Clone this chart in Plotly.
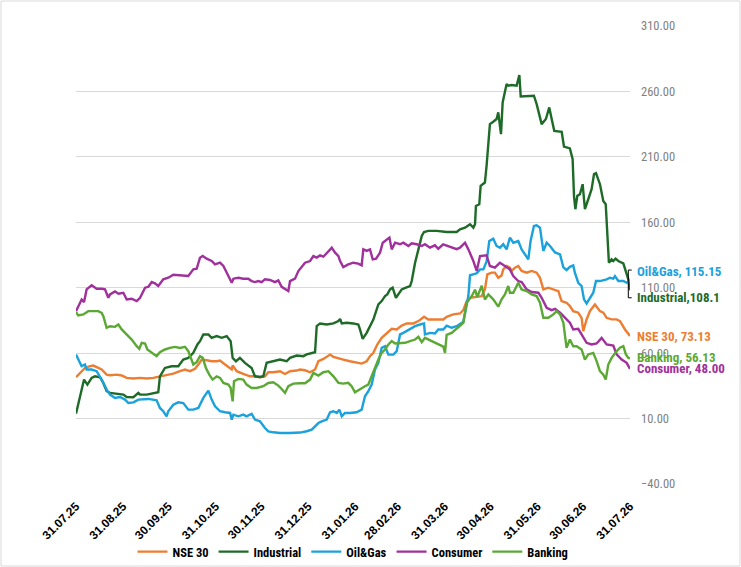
import pandas as pd
import plotly.graph_objects as go

# ---------------- data ----------------
start_date = "2025-07-31"

tick_dates = ["2025-07-31", "2025-08-31", "2025-09-30", "2025-10-31", "2025-11-30",
              "2025-12-31", "2026-01-31", "2026-02-28", "2026-03-31", "2026-04-30",
              "2026-05-31", "2026-06-30", "2026-07-31"]
tick_labels = ["31.07.25", "31.08.25", "30.09.25", "31.10.25", "30.11.25", "31.12.25",
               "31.01.26", "28.02.26", "31.03.26", "30.04.26", "31.05.26", "30.06.26",
               "31.07.26"]

series_names = ["NSE 30", "Industrial", "Oil&Gas", "Consumer", "Banking"]
end_labels = ["NSE 30, 73.13", "Industrial,108.1", "Oil&Gas, 115.15", "Consumer, 48.00", "Banking, 56.13"]

# day offsets from start_date and index values
nse_days = [0, 2.6, 5.9, 9.2, 11.4, 14.7, 16.9, 20.2, 22.4, 26.8, 30.1, 33.4, 37.8, 42.2, 46.6, 50.9,
            55.3, 59.7, 64.1, 68.5, 71.8, 75.1, 78.4, 80.6, 82.8, 86.1, 89.4, 92.7, 94.9, 98.2, 100.4,
            102.6, 103.2, 105.9, 110.2, 114.6, 117.9, 121.2, 124.5, 126.7, 130.0, 134.4, 137.7, 141.0,
            145.4, 147.6, 150.9, 154.2, 157.5, 159.7, 163.0, 167.4, 169.6, 172.9, 176.1, 180.5, 184.9,
            188.2, 191.5, 193.7, 195.9, 198.5, 201.4, 204.7, 208.0, 211.3, 214.6, 217.9, 222.3, 225.6,
            229.3, 232.1, 235.4, 238.7, 242.0, 244.2, 248.6, 253.0, 255.2, 257.4, 259.6, 264.0, 267.3,
            269.4, 271.0, 273.8, 276.0, 278.2, 280.4, 281.5, 283.7, 285.9, 287.0, 289.2, 291.4, 293.6,
            296.9, 300.2, 303.5, 305.7, 307.9, 311.2, 314.5, 317.8, 319.9, 323.2, 325.4, 327.6, 330.9,
            333.1, 334.2, 336.4, 338.6, 341.9, 345.2, 347.4, 349.6, 352.9, 356.2, 358.4, 361.7, 365]
nse_vals = [41.6, 44.9, 48.7, 50.0, 50.5, 48.7, 47.5, 43.6, 43.1, 43.6, 42.9, 41.1, 40.6, 41.1, 40.6, 41.1,
            42.3, 43.1, 44.4, 46.2, 47.5, 46.2, 48.0, 51.3, 55.1, 54.6, 53.8, 53.8, 54.3, 51.3, 49.5,
            47.5, 50.5, 46.2, 44.1, 42.3, 42.3, 41.6, 42.3, 45.4, 45.4, 46.2, 44.1, 46.2,
            46.7, 47.5, 46.9, 45.4, 47.5, 53.8, 55.6, 58.9, 57.2, 56.4, 55.1, 53.8, 52.6,
            52.0, 53.8, 57.7, 60.2, 66.6, 71.7, 75.5, 78.6, 78.1, 81.1, 82.7, 82.7, 84.5,
            87.8, 85.7, 85.7, 86.2, 85.7, 87.8, 89.6, 90.3, 92.9, 99.8, 102.3, 103.1, 103.6,
            108.7, 120.2, 121.5, 121.5, 117.6, 119.4, 124.0, 126.6, 125.3, 122.8, 125.3, 126.6, 122.8,
            121.5, 122.8, 121.5, 117.6, 108.7, 110.0, 108.7, 107.4, 99.8, 98.5, 96.0, 92.1, 90.9,
            87.0, 76.8, 85.7, 92.1, 97.2, 92.1, 90.9, 87.0, 85.8, 85.8, 84.5, 78.1, 73.13]

ind_days = [0, 2.6, 5.3, 7.5, 10.3, 12.5, 15.8, 18.0, 20.2, 22.4, 26.8, 31.2, 33.4, 37.8, 41.1, 42.2,
            46.6, 50.9, 54.2, 55.3, 58.6, 63.0, 67.4, 70.7, 74.0, 77.3, 80.0, 81.7, 83.9, 87.2, 89.4,
            92.7, 96.0, 99.3, 101.9, 103.2, 105.4, 108.0, 111.3, 115.7, 117.9, 121.2, 123.4, 125.6,
            130.0, 134.4, 138.8, 141.0, 145.4, 149.8, 152.0, 157.5, 158.6, 160.8, 165.2, 169.6, 172.9,
            174.0, 175.1, 178.3, 182.7, 186.0, 187.1, 188.9, 191.5, 193.7, 195.9, 199.2, 201.4, 203.6,
            205.1, 206.9, 208.6, 210.8, 213.0, 214.6, 217.4, 220.1, 221.2, 223.4, 225.6, 227.8, 229.3,
            232.1, 237.6, 244.2, 250.8, 253.0, 256.3, 259.6, 261.8, 262.9, 263.5, 265.7, 266.6, 269.4,
            270.5, 272.7, 274.9, 277.1, 278.2, 280.0, 281.1, 282.6, 283.7, 284.8, 287.0, 290.3, 291.4,
            292.1, 293.0, 296.9, 301.7, 303.5, 306.8, 309.6, 311.8, 313.4, 315.1, 320.0, 321.5, 325.4,
            327.2, 328.1, 329.0, 330.3, 332.0, 333.8, 335.3, 337.5, 339.7, 341.3, 342.6, 345.2, 347.4,
            349.0, 350.0, 351.1, 352.9, 354.0, 355.5, 357.3, 360.6, 362.8, 363.9, 365]
ind_vals = [13.8, 27.0, 39.8, 36.0, 41.1, 42.3, 41.6, 37.2, 30.9, 29.6, 29.1, 28.3, 26.5, 26.3, 29.6, 28.3,
            28.3, 29.1, 30.1, 42.3, 48.7, 50.0, 50.0, 55.1, 56.4, 60.2, 66.6, 69.1, 74.3, 74.3, 71.7,
            73.0, 71.7, 73.0, 69.1, 56.4, 53.8, 56.4, 52.6, 48.7, 42.3, 41.8, 42.3, 52.6,
            53.8, 55.1, 53.8, 56.4, 58.2, 57.7, 59.0, 60.7, 80.6, 82.7, 81.9, 82.7, 84.5,
            86.2, 82.7, 83.2, 82.7, 81.9, 78.1, 70.9, 75.5, 80.6, 85.7, 97.2, 99.8, 103.6,
            104.9, 108.7, 110.0, 102.3, 106.2, 108.7, 110.0, 111.3, 115.1, 129.1, 139.3, 149.5, 152.6,
            153.4, 153.4, 152.6, 152.6, 154.6, 155.9, 158.5, 155.9, 158.5, 172.5, 173.8, 187.8, 190.4,
            203.1, 235.0, 236.8, 238.9, 244.0, 227.4, 251.6, 259.3, 265.7, 264.4, 264.9, 264.4, 269.5,
            272.5, 256.2, 256.2, 256.7, 250.3, 235.0, 238.9, 247.8, 238.9, 229.9, 229.2, 217.9, 216.4,
            208.2, 180.2, 170.0, 180.2, 181.4, 189.1, 170.0, 177.6, 185.3, 196.8, 197.5, 189.1, 176.3,
            173.8, 152.1, 129.1, 131.7, 130.4, 132.2, 130.4, 128.6, 120.2, 116.4, 108.1]

oil_days = [0, 1.5, 3.7, 5.9, 7.0, 10.3, 13.6, 16.9, 18.0, 20.2, 22.4, 25.7, 29.0, 32.3, 34.5, 37.8,
            41.1, 44.4, 47.7, 53.1, 55.3, 57.5, 59.7, 60.8, 64.1, 67.4, 70.7, 74.0, 77.3, 80.6, 83.9,
            87.2, 89.4, 91.6, 94.9, 98.2, 101.5, 102.6, 103.7, 107.0, 110.2, 112.4, 115.7, 117.9, 121.2,
            124.5, 126.7, 130.0, 134.4, 141.0, 147.6, 152.0, 155.3, 157.5, 159.7, 161.9, 165.2, 167.4,
            169.6, 171.8, 173.5, 175.1, 177.2, 180.5, 184.9, 188.2, 190.4, 192.6, 194.8, 197.0, 199.2,
            201.4, 203.6, 205.8, 209.1, 211.3, 213.5, 215.7, 217.9, 220.1, 223.4, 226.7, 229.3, 229.9,
            233.3, 236.5, 238.7, 242.0, 244.2, 247.5, 250.8, 255.2, 257.0, 258.5, 259.6, 264.0, 266.2,
            268.4, 270.5, 272.3, 274.9, 277.1, 279.3, 281.5, 283.7, 285.9, 288.1, 291.4, 293.6, 295.8,
            298.0, 299.5, 301.7, 303.5, 305.7, 306.8, 307.9, 310.1, 312.3, 315.6, 318.9, 321.1, 323.2,
            325.4, 327.6, 328.7, 330.9, 333.1, 334.7, 336.4, 338.6, 340.8, 342.6, 345.2, 349.6, 351.8,
            354.0, 355.1, 357.3, 360.6, 362.8, 365]
oil_vals = [59.0, 55.1, 50.0, 51.3, 47.5, 47.5, 46.2, 39.8, 37.2, 32.1, 28.3, 25.8, 26.5, 24.5, 21.9, 22.4,
            24.5, 25.0, 25.0, 24.0, 18.1, 15.6, 11.7, 15.6, 20.6, 22.4, 21.9, 16.8, 16.8, 18.1, 25.8,
            31.4, 24.5, 19.4, 15.6, 14.8, 14.3, 9.2, 13.0, 11.7, 13.0, 11.7, 13.7, 9.2, 7.9,
            2.8, 0.2, -0.5, -1.0, -1.0, -0.7, 0.3, 1.5, 4.1, 6.6, 7.9, 9.2, 14.8,
            15.6, 14.3, 16.8, 11.7, 14.3, 14.3, 14.8, 16.8, 27.0, 30.9, 36.0, 47.5, 52.6,
            64.0, 65.3, 58.9, 58.9, 61.5, 74.3, 75.5, 76.8, 78.1, 80.6, 81.9, 82.7, 74.3,
            75.5, 75.0, 78.1, 78.1, 81.0, 79.4, 80.6, 84.0, 96.0, 103.6, 119.5, 121.0, 124.0,
            124.0, 130.0, 145.7, 147.5, 141.9, 140.6, 143.2, 139.3, 148.3, 144.4, 145.7, 139.3, 135.5,
            131.7, 145.7, 157.2, 157.7, 155.9, 147.0, 138.1, 144.4, 141.9, 137.0, 135.5, 125.5, 123.5,
            126.0, 127.0, 121.5, 113.8, 111.3, 101.1, 98.0, 102.3, 106.2, 115.1, 115.1, 116.4, 117.6,
            116.9, 118.9, 115.1, 115.1, 113.8, 115.15]

con_days = [0, 1.5, 3.7, 5.3, 7.0, 10.3, 13.6, 16.9, 19.1, 21.3, 22.4, 25.7, 27.9, 31.2, 33.4, 36.7,
            40.0, 42.2, 45.5, 47.7, 49.9, 52.0, 54.2, 57.5, 60.8, 64.1, 67.4, 70.7, 74.0, 77.3, 79.5,
            81.7, 83.5, 86.1, 89.4, 91.6, 94.9, 97.1, 99.3, 101.5, 102.6, 103.7, 107.0, 110.2, 113.5,
            115.7, 117.9, 120.1, 122.3, 124.5, 127.8, 131.1, 133.3, 135.5, 137.7, 139.9, 141.0, 144.3,
            146.5, 150.9, 154.2, 156.4, 158.6, 160.8, 163.0, 165.2, 168.5, 170.7, 172.9, 174.0, 176.1,
            179.4, 182.7, 186.0, 188.2, 189.3, 191.5, 193.7, 195.5, 197.7, 200.3, 202.1, 204.7, 206.5,
            208.0, 210.2, 213.5, 215.7, 219.0, 221.2, 224.5, 227.8, 229.9, 233.2, 236.5, 238.7, 241.9,
            245.3, 248.6, 250.8, 253.0, 256.3, 258.5, 261.8, 264.0, 266.2, 270.5, 272.7, 276.0, 279.3,
            282.6, 285.9, 288.1, 291.4, 293.6, 296.9, 300.2, 304.6, 306.8, 310.1, 313.4, 315.6, 318.9,
            322.2, 325.4, 327.6, 330.9, 333.1, 336.4, 339.7, 343.0, 346.3, 349.6, 354.0, 356.2, 359.5,
            362.8, 365]
con_vals = [92.1, 96.0, 101.0, 99.0, 108.7, 111.8, 109.2, 109.2, 108.7, 102.3, 104.9, 107.2, 105.4, 106.1, 101.0, 101.6,
            99.8, 102.3, 110.0, 110.7, 114.3, 113.3, 111.3, 116.4, 117.6, 119.9, 119.4, 118.9, 118.9, 124.0, 124.5,
            132.9, 134.2, 132.2, 130.4, 127.8, 129.1, 126.6, 121.5, 117.6, 113.8, 116.9, 117.6, 116.9, 116.9,
            115.1, 114.3, 115.1, 114.3, 116.4, 115.9, 114.3, 115.6, 110.7, 108.7, 107.4, 115.1, 116.9,
            122.7, 129.1, 130.4, 134.2, 133.0, 134.7, 133.7, 136.8, 140.6, 136.8, 134.2, 130.4, 125.8,
            127.8, 129.1, 128.4, 127.1, 139.3, 138.1, 139.3, 131.7, 132.2, 136.8, 144.4, 147.0, 148.3,
            139.3, 144.4, 143.2, 144.4, 141.9, 143.9, 143.2, 141.9, 143.2, 140.6, 142.4, 139.8, 143.2,
            141.9, 140.6, 139.5, 140.6, 144.4, 139.3, 130.4, 122.8, 134.2, 134.8, 126.6, 125.3, 129.1,
            126.6, 124.0, 118.9, 115.1, 114.3, 108.7, 106.7, 106.2, 102.3, 94.7, 92.9, 93.9, 90.9,
            87.0, 83.2, 78.1, 78.6, 74.3, 67.9, 66.6, 67.4, 71.7, 66.6, 65.8, 59.0, 55.1,
            52.6, 48.0]

bank_days = [0, 1.5, 4.8, 8.1, 11.4, 14.7, 16.9, 18.0, 20.2, 22.4, 25.7, 27.9, 30.1, 33.4, 36.7, 40.0,
             41.7, 43.3, 45.5, 47.0, 49.9, 53.1, 55.3, 58.6, 61.9, 65.2, 68.5, 71.8, 74.0, 76.2, 77.3,
             79.5, 81.7, 83.5, 85.6, 87.8, 90.0, 92.7, 94.9, 97.1, 100.4, 101.9, 103.2, 104.1, 107.0,
             110.2, 112.4, 115.7, 119.0, 123.4, 126.7, 130.0, 133.3, 135.5, 137.7, 139.9, 143.2, 147.6,
             150.9, 154.2, 156.4, 159.7, 163.0, 166.3, 169.6, 172.9, 176.1, 179.4, 181.6, 183.8, 187.1,
             190.4, 192.6, 194.8, 197.0, 199.2, 201.4, 203.6, 205.8, 208.0, 210.2, 213.5, 216.8, 220.1,
             223.4, 225.6, 227.8, 229.9, 232.1, 235.4, 238.7, 242.0, 243.1, 244.2, 247.5, 250.8, 254.1,
             255.2, 257.4, 260.7, 262.9, 264.4, 267.3, 269.4, 271.7, 274.9, 278.2, 280.4, 282.6, 284.8,
             285.9, 288.1, 291.4, 293.6, 296.9, 300.2, 303.5, 305.7, 307.9, 311.2, 314.5, 316.7, 318.9,
             321.1, 323.2, 325.4, 327.6, 329.8, 333.1, 335.3, 337.5, 340.8, 343.0, 345.2, 347.4, 349.0,
             350.7, 352.9, 356.2, 358.4, 360.6, 362.3, 363.9, 365]
bank_vals = [91.4, 88.8, 89.6, 92.1, 92.1, 92.1, 90.8, 88.3, 79.4, 80.6, 80.1, 81.9, 78.1, 74.3, 70.4, 65.3,
             63.3, 67.9, 67.4, 62.8, 60.2, 57.7, 60.7, 62.8, 64.0, 64.8, 64.0, 64.8, 61.5, 53.8, 51.3,
             53.1, 57.7, 56.4, 48.7, 43.6, 39.8, 42.3, 41.1, 37.2, 36.0, 33.4, 23.2, 38.5, 40.3,
             39.8, 36.0, 33.4, 33.4, 34.7, 37.2, 37.8, 35.2, 32.6, 29.6, 34.7, 36.7, 37.0,
             37.0, 39.8, 44.9, 42.9, 45.4, 46.2, 42.3, 37.3, 36.7, 37.3, 34.7, 30.1, 32.7,
             34.7, 36.0, 42.3, 50.0, 55.1, 60.2, 62.8, 66.6, 69.2, 67.4, 67.9, 67.9, 69.2,
             70.4, 72.5, 68.4, 71.7, 70.4, 68.4, 66.6, 65.0, 60.2, 74.0, 75.5, 78.5, 81.5,
             83.2, 98.5, 103.5, 108.5, 103.0, 111.5, 101.0, 104.9, 101.1, 95.5, 101.1, 104.9, 111.3,
             106.2, 106.2, 113.8, 108.7, 107.4, 104.9, 103.6, 98.5, 87.0, 87.0, 89.6, 92.1, 89.6,
             83.2, 64.1, 70.4, 65.3, 65.3, 62.8, 55.1, 59.0, 60.2, 53.9, 46.2, 43.6, 39.8,
             51.3, 56.4, 61.5, 64.1, 65.3, 59.0, 56.4, 56.13]

# ---------------- styling ----------------
colors = ["#ED7D31", "#1E6B28", "#1BA1DC", "#A0309B", "#5BA834"]
label_y = [72.8, 102.3, 122.6, 48.2, 56.5]

W, H = 741, 567
ML, MR, MT, MB = 76, 111, 26, 83
PW, PH = W - ML - MR, H - MT - MB

NARROW = "Roboto Condensed, Noto Sans, sans-serif"

start = pd.Timestamp(start_date)


def to_dates(days):
    return [start + pd.to_timedelta(d, unit="D") for d in days]


all_days = [nse_days, ind_days, oil_days, con_days, bank_days]
all_vals = [nse_vals, ind_vals, oil_vals, con_vals, bank_vals]

fig = go.Figure()
for name, d, v, c in zip(series_names, all_days, all_vals, colors):
    fig.add_trace(go.Scatter(x=to_dates(d), y=v, name=name, mode="lines",
                             line=dict(color=c, width=2.4)))

annotations = []
for txt, yv, c in zip(end_labels, label_y, colors):
    annotations.append(dict(xref="paper", yref="y", x=(636 - ML) / PW, y=yv, text=f"<b>{txt}</b>",
                            showarrow=False, xanchor="left", yanchor="middle", align="left",
                            borderpad=0,
                            font=dict(family=NARROW, size=13, color=c)))

shapes = [
    dict(type="rect", xref="paper", yref="paper",
         x0=-(ML - 1) / PW, x1=1 + (MR - 1) / PW, y0=-(MB - 1) / PH, y1=1 + (MT - 1) / PH,
         line=dict(color="#d9d9d9", width=1), fillcolor="rgba(0,0,0,0)", layer="below"),
    dict(type="path", xref="paper", yref="y",
         path=f"M {(631.7 - ML) / PW},123.5 L {(628.3 - ML) / PW},123.5 L {(628.3 - ML) / PW},102.3 L {(631.7 - ML) / PW},102.3",
         line=dict(color="black", width=1)),
]

fig.update_layout(
    width=W, height=H,
    margin=dict(l=ML, r=MR, t=MT, b=MB, autoexpand=False),
    paper_bgcolor="white", plot_bgcolor="white",
    showlegend=True,
    legend=dict(orientation="h", x=0.5, xanchor="center", y=-68 / PH, yanchor="middle",
                font=dict(family=NARROW, size=12.5, color="black", weight="bold"), itemwidth=30,
                bgcolor="rgba(0,0,0,0)", tracegroupgap=0),
    annotations=annotations,
    shapes=shapes,
    xaxis=dict(type="date", range=[start, pd.Timestamp(tick_dates[-1])], automargin=False,
               tickvals=pd.to_datetime(tick_dates), ticktext=[f"<b>{t}</b>" for t in tick_labels],
               tickangle=-45, showgrid=False, zeroline=False, showline=False, ticks="",
               ticklabelstandoff=12,
               tickfont=dict(family="Liberation Sans, Arial, sans-serif", size=12, color="black")),
    yaxis=dict(side="right", range=[-40, 310], tick0=10, dtick=50, tickformat=".2f", automargin=False,
               showgrid=True, gridcolor="#d9d9d9", gridwidth=1, zeroline=False, showline=False,
               ticks="", ticklabelstandoff=10,
               tickfont=dict(family=NARROW, size=12.5, color="#7f7f7f")),
)

fig.write_html("out.html", post_script="document.body.style.margin='0';document.body.style.overflow='hidden';",
               config={"displayModeBar": False})
